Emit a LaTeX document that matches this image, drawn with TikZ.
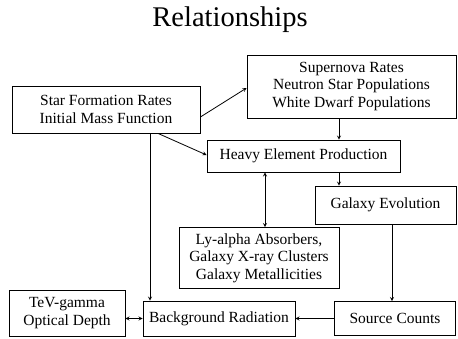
\documentclass[tikz,border=0pt]{standalone}
\usepackage{fontspec}
\setmainfont{Liberation Serif}
\usetikzlibrary{arrows.meta, positioning}

\begin{document}
\begin{tikzpicture} [x=1pt, y=-1pt, line width=0.8pt,
    box/.style={rectangle, draw, align=center, inner sep=0pt,
        font=\fontsize{15.5}{17.5}\selectfont}]
\useasboundingbox (0,0) rectangle (458,338);
\node (t) at (230,20) {\fontsize{28.5}{32}\selectfont Relationships};

\node (0) [box, minimum width=188, minimum height=47] at (106,109.5) {Star Formation Rates\\Initial Mass Function};
\node (1) [box, minimum width=209, minimum height=63] at (351.5,86.5) {Supernova Rates\\Neutron Star Populations\\White Dwarf Populations};
\node (2) [box, minimum width=193, minimum height=32] at (303.5,156) {Heavy Element Production};
\node (3) [box, minimum width=141, minimum height=38] at (385.5,205) {Galaxy Evolution};
\node (4) [box, minimum width=160, minimum height=61] at (259,258) {Ly-alpha Absorbers,\\Galaxy X-ray Clusters\\Galaxy Metallicities};
\node (5) [box, minimum width=116, minimum height=46] at (67,313) {TeV-gamma\\Optical Depth};
\node (6) [box, minimum width=152, minimum height=35] at (219,318.5) {Background Radiation};
\node (7) [box, minimum width=121, minimum height=34] at (395,318.5) {Source Counts};

\path [-stealth]
    ([yshift=-7.5pt]0.east) edge ([yshift=-1.5pt]1.west)
    ([xshift=52pt]0.south) edge ([yshift=1pt]2.west)
    ([xshift=44pt]0.south) edge ([xshift=-69pt]6.north)

    ([xshift=-12.5pt]1.south) edge ([xshift=35.5pt]2.north)
    ([xshift=35.5pt]2.south) edge ([xshift=-46.5pt]3.north)
    ([xshift=6.5pt]3.south) edge ([xshift=-3pt]7.north)

    (7.west) edge (6.east);

\path [stealth-stealth]
    ([xshift=-38.5pt]2.south) edge ([xshift=6pt]4.north)
    (5.east |- 6.west) edge (6.west);
\end{tikzpicture}
\end{document}
